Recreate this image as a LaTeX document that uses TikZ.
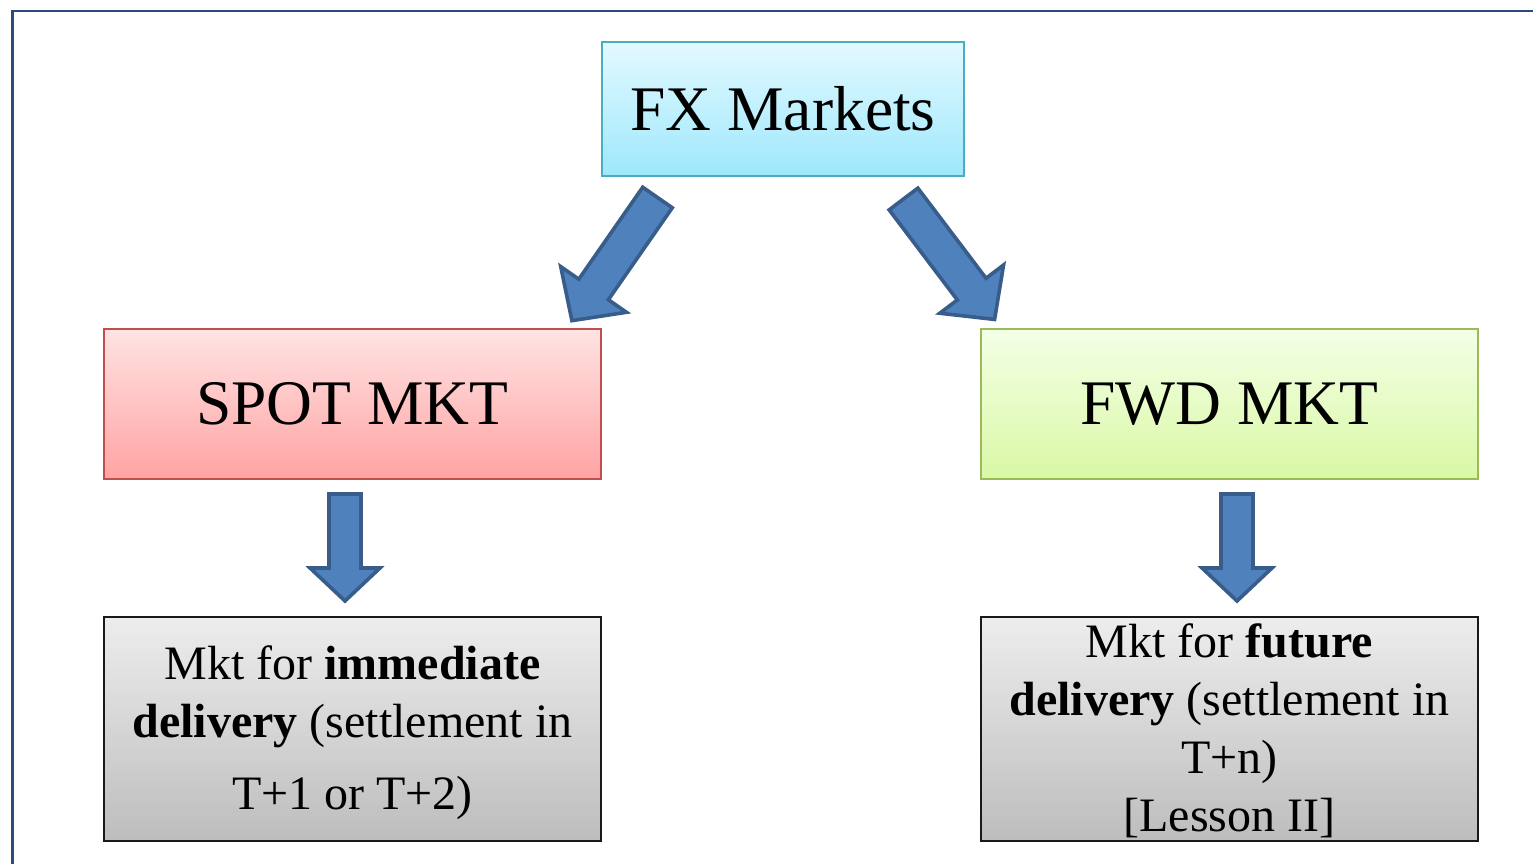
\documentclass[tikz,border=0pt]{standalone}
\usepackage{fontspec}
\setmainfont{Liberation Serif}
\usetikzlibrary{calc}

\definecolor{framecol}{HTML}{2B4B7B}
\definecolor{arrowfill}{HTML}{4F81BD}
\definecolor{arrowline}{HTML}{385D8A}
\definecolor{fxtop}{HTML}{E3F9FF}
\definecolor{fxbot}{HTML}{9EE8FC}
\definecolor{fxline}{HTML}{4BACC6}
\definecolor{spottop}{HTML}{FFE3E3}
\definecolor{spotbot}{HTML}{FFA3A3}
\definecolor{spotline}{HTML}{C0504D}
\definecolor{fwdtop}{HTML}{F4FFE6}
\definecolor{fwdbot}{HTML}{D9F8A5}
\definecolor{fwdline}{HTML}{9BBB59}
\definecolor{desctop}{HTML}{EDEDED}
\definecolor{descbot}{HTML}{BDBDBD}

\tikzset{
  box/.style={rectangle, inner sep=0pt, line width=2.4pt, font=\fontsize{63.5}{70}\selectfont},
  fxbox/.style={box, draw=fxline, top color=fxtop, bottom color=fxbot,
    minimum width=362pt, minimum height=134pt},
  spotbox/.style={box, draw=spotline, top color=spottop, bottom color=spotbot,
    minimum width=497pt, minimum height=150pt},
  fwdbox/.style={box, draw=fwdline, top color=fwdtop, bottom color=fwdbot,
    minimum width=497pt, minimum height=150pt},
  descbox/.style={rectangle, inner sep=0pt, line width=2.4pt, draw=black!90,
    top color=desctop, bottom color=descbot,
    minimum width=497pt, minimum height=224pt},
  desctext/.style={align=center, inner sep=0pt, font=\fontsize{48}{58}\selectfont},
  blockarrowstyle/.style={fill=arrowfill, draw=arrowline, line width=3.6pt},
  pics/blockarrow/.style n args={4}{code={
    % #1 length, #2 shaft width, #3 head width, #4 head length
    \draw[blockarrowstyle] (0,-#2/2) -- (#1-#4,-#2/2) -- (#1-#4,-#3/2) -- (#1,0)
      -- (#1-#4,#3/2) -- (#1-#4,#2/2) -- (0,#2/2) -- cycle;
  }}
}

\begin{document}
\begin{tikzpicture}[x=1pt,y=1pt]
  \useasboundingbox (0,0) rectangle (1533,864);
  \fill[white] (0,0) rectangle (1533,864);

  % slide frame (left and top edges)
  \draw[framecol, line width=2.4pt] (12.5,0) -- (12.5,853.2) -- (1533,853.2);

  % market boxes
  \node[fxbox]   (fx)   at (783,755)   {FX Markets};
  \node[spotbox] (spot) at (352.5,460) {SPOT MKT};
  \node[fwdbox]  (fwd)  at (1229.5,460) {FWD MKT};

  % description boxes (text anchored on the baseline of its last line)
  \node[descbox] (spotdesc) at (352.5,135) {};
  \node[descbox] (fwddesc)  at (1229.5,135) {};

  \node[desctext, anchor=base] (spottext) at (352.5,54)
    {Mkt for \textbf{immediate}\\ \textbf{delivery} (settlement in\\[14pt] T+1 or T+2)};
  \node[desctext, anchor=base] (fwdtext) at (1229.5,32)
    {Mkt for \textbf{future}\\ \textbf{delivery} (settlement in\\ T+n)\\ {[Lesson II]}};

  % block arrows
  \pic[rotate=235.2] at (657.5,666.5) {blockarrow={150}{36}{80}{38}};
  \pic[rotate=-52.9] at (903.5,665)   {blockarrow={151}{36}{80}{38}};
  \pic[rotate=-90]   at (345,370)     {blockarrow={107}{32}{70}{33}};
  \pic[rotate=-90]   at (1237,370)    {blockarrow={107}{32}{70}{33}};
\end{tikzpicture}
\end{document}
